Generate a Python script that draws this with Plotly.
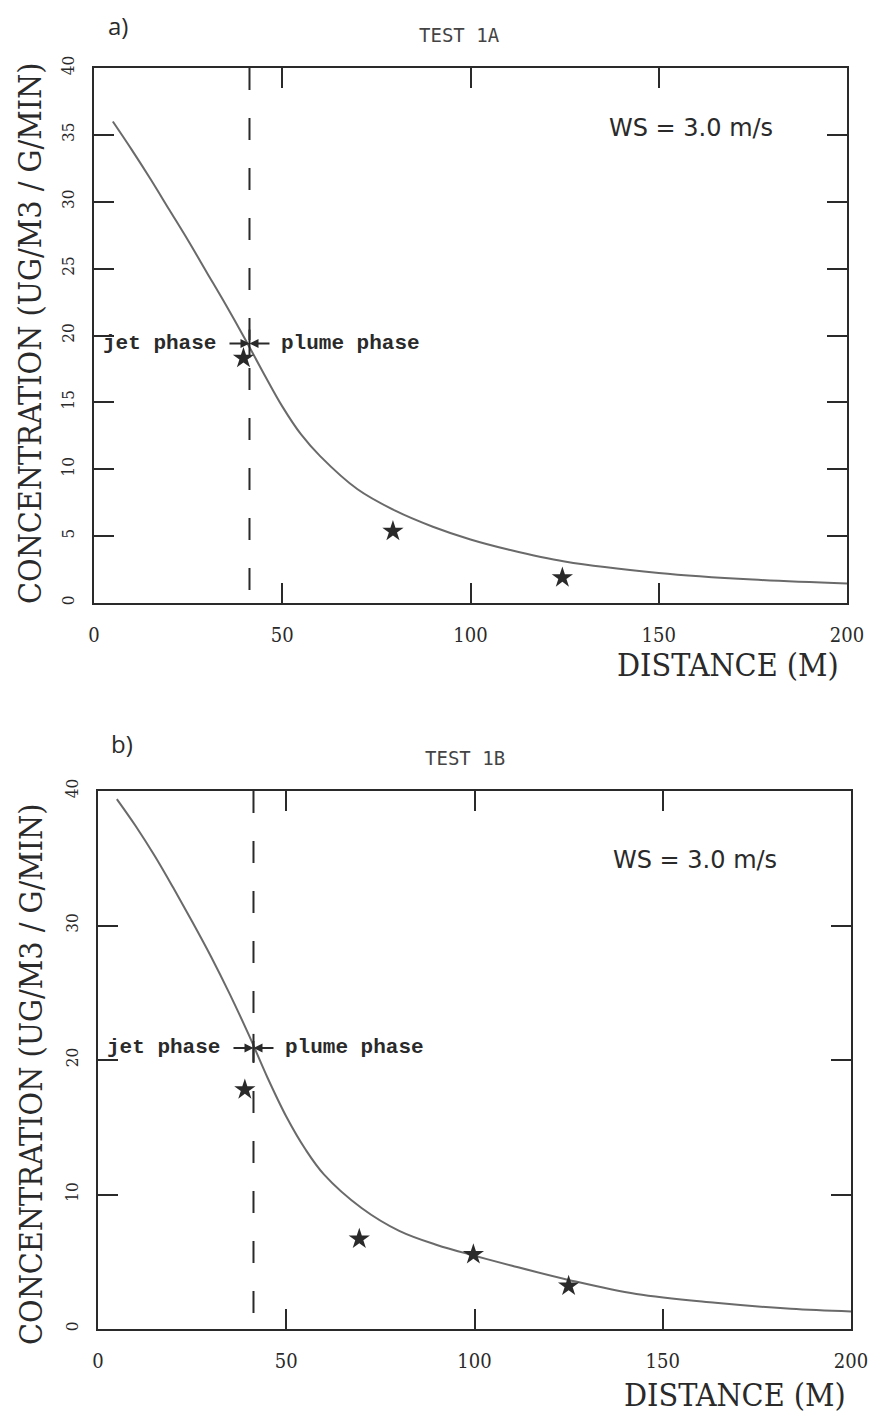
import plotly.graph_objects as go

# the page body adds an 8px margin; build the figure so the window pixels line up
OFF = 8
W, H = 876 - OFF, 1419 - OFF

# ---------------- data ----------------
# Panel a) TEST 1A : model curve, observations, jet/plume transition
a_curve_x = [5, 10, 15, 20, 25, 30, 35, 40, 45, 50, 55, 60, 70, 80, 90, 100, 110, 125, 150, 175, 200]
a_curve_y = [36.0, 33.9, 31.7, 29.4, 27.1, 24.7, 22.3, 19.8, 17.2, 14.7, 12.6, 11.0, 8.5, 6.9, 5.7, 4.75, 4.0, 3.1, 2.25, 1.75, 1.45]
a_obs_x = [39.7, 79.4, 124.4]
a_obs_y = [18.3, 5.37, 1.9]
a_transition_x = 41.3
a_transition_y = 19.4

# Panel b) TEST 1B
b_curve_x = [5, 10, 15, 20, 25, 30, 35, 40, 45, 50, 55, 60, 70, 80, 90, 100, 110, 125, 143, 164, 184, 200]
b_curve_y = [39.4, 37.4, 35.2, 32.8, 30.3, 27.7, 24.9, 21.9, 18.7, 15.8, 13.4, 11.5, 9.0, 7.3, 6.25, 5.45, 4.7, 3.65, 2.6, 1.95, 1.5, 1.3]
b_obs_x = [39.0, 69.4, 99.7, 125.0]
b_obs_y = [17.8, 6.7, 5.55, 3.2]
b_transition_x = 41.3
b_transition_y = 20.9

x_ticks = [0, 50, 100, 150, 200]
a_y_ticks = [0, 5, 10, 15, 20, 25, 30, 35, 40]
b_y_ticks = [0, 10, 20, 30, 40]

# ---------------- figure ----------------
INK = "#2a2a2a"
CURVE = "#6a6a6a"
MONO = "Liberation Mono"
SERIF = "DejaVu Serif Condensed, DejaVu Serif"

fig = go.Figure()

def add_panel(xa, ya, cx, cy, ox, oy, tx, ty):
    fig.add_trace(go.Scatter(x=cx, y=cy, mode="lines", line=dict(color=CURVE, width=2, shape="spline", smoothing=1.0),
                             xaxis=xa, yaxis=ya, showlegend=False, hoverinfo="skip"))
    fig.add_trace(go.Scatter(x=[tx, tx], y=[40, 0], mode="lines", line=dict(color=INK, width=2, dash="22px,28px"),
                             xaxis=xa, yaxis=ya, showlegend=False, hoverinfo="skip"))
    fig.add_trace(go.Scatter(x=ox, y=oy, mode="markers", marker=dict(symbol="star", size=16, color=INK),
                             xaxis=xa, yaxis=ya, showlegend=False))
    fig.add_trace(go.Scatter(x=[tx], y=[ty], mode="markers",
                             marker=dict(symbol="line-ns", size=20, line=dict(color=INK, width=2)),
                             xaxis=xa, yaxis=ya, showlegend=False, hoverinfo="skip"))

add_panel("x", "y", a_curve_x, a_curve_y, a_obs_x, a_obs_y, a_transition_x, a_transition_y)
add_panel("x2", "y2", b_curve_x, b_curve_y, b_obs_x, b_obs_y, b_transition_x, b_transition_y)

def px_x(px):
    return (px - OFF) / W

def px_y(py):
    return 1 - (py - OFF) / H

def xax(domain, anchor):
    return dict(domain=domain, anchor=anchor, range=[0, 200], tickvals=x_ticks,
                ticktext=[str(v) for v in x_ticks], ticks="inside", ticklen=20, tickwidth=1.5,
                tickcolor=INK, showline=True, linecolor=INK, linewidth=1.5, mirror="ticks",
                showgrid=False, zeroline=False, ticklabelstandoff=13, automargin=False,
                tickfont=dict(family=SERIF, size=20, color=INK))

def yax(domain, anchor, ticks):
    return dict(domain=domain, anchor=anchor, range=[0, 40], tickvals=ticks,
                ticktext=[str(v) for v in ticks], ticks="inside", ticklen=20, tickwidth=1.5,
                tickcolor=INK, showline=True, linecolor=INK, linewidth=1.5, mirror="ticks",
                showgrid=False, zeroline=False, tickangle=-90, ticklabelstandoff=11, automargin=False,
                tickfont=dict(family=SERIF, size=17, color=INK))

fig.update_layout(
    width=W, height=H, margin=dict(l=0, r=0, t=0, b=0, autoexpand=False),
    paper_bgcolor="white", plot_bgcolor="white", showlegend=False,
    xaxis=xax([px_x(94), px_x(847)], "y"),
    yaxis=yax([px_y(603), px_y(68)], "x", a_y_ticks),
    xaxis2=xax([px_x(98), px_x(851)], "y2"),
    yaxis2=yax([px_y(1329), px_y(791)], "x2", b_y_ticks),
)

def ann(text, px, py, size, family, weight="normal", angle=0, color=INK):
    fig.add_annotation(text=text, x=px_x(px), y=px_y(py), xref="paper", yref="paper", showarrow=False,
                       xanchor="center", yanchor="middle", textangle=angle,
                       font=dict(family=family, size=size, color=color, weight=weight))

# panel labels, titles, axis titles
panels = [
    dict(lab="a)", lab_xy=(118, 25), tit="TEST 1A", tit_xy=(460, 35), ytit_xy=(30, 334), xtit_xy=(728, 665)),
    dict(lab="b)", lab_xy=(122, 744), tit="TEST 1B", tit_xy=(465, 758), ytit_xy=(31, 1075), xtit_xy=(735, 1395)),
]
for p in panels:
    ann(p["lab"], *p["lab_xy"], 24, "Open Sans")
    ann(p["tit"], *p["tit_xy"], 19, "DejaVu Sans Mono", color="#444")
    ann("CONCENTRATION (UG/M3 / G/MIN)", *p["ytit_xy"], 32, SERIF, angle=-90)
    ann("DISTANCE (M)", *p["xtit_xy"], 32, SERIF)

# wind speed labels
for xa, ya, yv in [("x", "y", 35.5), ("x2", "y2", 34.9)]:
    fig.add_annotation(text="WS = 3.0 m/s", x=158.5, y=yv, xref=xa, yref=ya, showarrow=False,
                       font=dict(family="DejaVu Sans", size=24, color=INK))

# jet / plume phase labels with arrows pointing at the transition
for xa, ya, tx, ty in [("x", "y", a_transition_x, a_transition_y), ("x2", "y2", b_transition_x, b_transition_y)]:
    fig.add_annotation(text="jet phase", x=tx, y=ty, xref=xa, yref=ya, ax=-90, ay=0,
                       showarrow=True, arrowhead=2, arrowsize=0.9, arrowwidth=2, arrowcolor=INK,
                       startstandoff=12, font=dict(family=MONO, size=21, color=INK, weight="bold"))
    fig.add_annotation(text="plume phase", x=tx, y=ty, xref=xa, yref=ya, ax=101, ay=0,
                       showarrow=True, arrowhead=2, arrowsize=0.9, arrowwidth=2, arrowcolor=INK,
                       startstandoff=10, font=dict(family=MONO, size=21, color=INK, weight="bold"))

fig.write_html("out.html")
